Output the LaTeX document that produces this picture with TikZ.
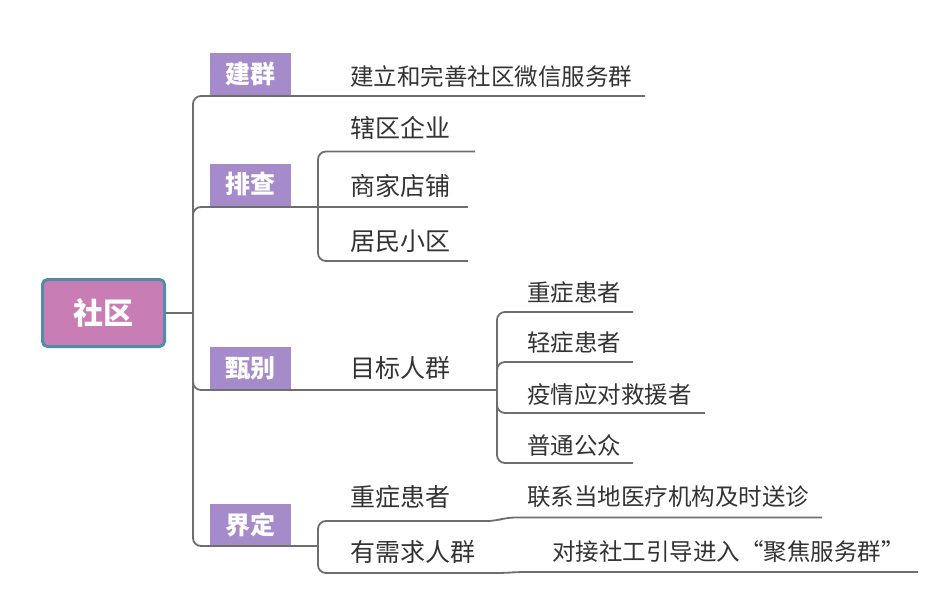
\documentclass[tikz,border=0pt]{standalone}
\usepackage{fontspec}
\setmainfont{Noto Sans CJK SC}
\definecolor{rootfill}{HTML}{C87DB4}
\definecolor{rootborder}{HTML}{4F8DAA}
\definecolor{catfill}{HTML}{A68BCB}
\definecolor{linegray}{HTML}{6E6E6E}
\definecolor{txt}{HTML}{333333}
\begin{document}
\begin{tikzpicture}[x=1pt,y=-1pt,
  conn/.style={draw=linegray, line width=1.8pt, rounded corners=8pt},
  rootbox/.style={draw=rootborder, line width=3pt, fill=rootfill, rounded corners=5pt,
    minimum width=122pt, minimum height=67pt, inner sep=0pt, text=white,
    font=\bfseries\fontsize{30}{30}\selectfont},
  catbox/.style={fill=catfill, minimum width=81pt, minimum height=42pt, inner sep=0pt,
    text=white, font=\bfseries\fontsize{25}{25}\selectfont},
  lvtwo/.style={anchor=west, inner sep=0pt, text=txt, font=\fontsize{25}{25}\selectfont},
  lvthree/.style={anchor=west, inner sep=0pt, text=txt, font=\fontsize{23.5}{23.5}\selectfont},
]
\useasboundingbox (0,0) rectangle (952,602);

% root
\node[rootbox] (root) at (103.5,313) {社区};

% categories
\node[catbox] (c1) at (250.5,74) {建群};
\node[catbox] (c2) at (250.5,184.5) {排查};
\node[catbox] (c3) at (250.5,368) {甄别};
\node[catbox] (c4) at (250.5,524.5) {界定};

% texts
\node[lvthree] (t1) at (350,76) {建立和完善社区微信服务群};
\node[lvtwo] (l21) at (350,128) {辖区企业};
\node[lvtwo] (l22) at (350,186) {商家店铺};
\node[lvtwo] (l23) at (350,241) {居民小区};
\node[lvtwo] (l31) at (350,368) {目标人群};
\node[lvthree] (l311) at (527,293) {重症患者};
\node[lvthree] (l312) at (527,343) {轻症患者};
\node[lvthree] (l313) at (527,395) {疫情应对救援者};
\node[lvthree] (l314) at (527,445) {普通公众};
\node[lvtwo] (l41) at (350,497) {重症患者};
\node[lvtwo] (l42) at (350,552) {有需求人群};
\node[lvthree] (l411) at (527,497) {联系当地医疗机构及时送诊};
\node[lvthree] (l421) at (552,552) {对接社工引导进入“聚焦服务群”};

% junctions and line ends
\coordinate (j0) at (193,313);
\coordinate (e1) at (645,96);
\coordinate (e2) at (318,207);
\coordinate (e3) at (497,390);
\coordinate (e4) at (318,546);
\coordinate (f1) at (475,151.5);
\coordinate (f2) at (468,207);
\coordinate (f3) at (468,261);
\coordinate (g1) at (633,312);
\coordinate (g2) at (633,362);
\coordinate (g3) at (705,413);
\coordinate (g4) at (633,463);
\coordinate (h1a) at (495,521);
\coordinate (h1b) at (507,517.5);
\coordinate (h1) at (822,517.5);
\coordinate (h2a) at (505,573);
\coordinate (h2b) at (517,572);
\coordinate (h2) at (918,572);

% connectors
\draw[conn] (root.east) -- (j0);
\draw[conn] (j0) |- (e1);
\draw[conn] (j0) |- (e2);
\draw[conn] (j0) |- (e3);
\draw[conn] (j0) |- (e4);

\draw[conn] (e2) |- (f1);
\draw[conn] (e2) -- (f2);
\draw[conn] (e2) |- (f3);

\draw[conn] (e3) |- (g1);
\draw[conn] (e3) |- (g2);
\draw[conn] (e3) |- (g3);
\draw[conn] (e3) |- (g4);

\draw[conn] (e4) |- (h1a) -- (h1b) -- (h1);
\draw[conn] (e4) |- (h2a) -- (h2b) -- (h2);
\end{tikzpicture}
\end{document}
